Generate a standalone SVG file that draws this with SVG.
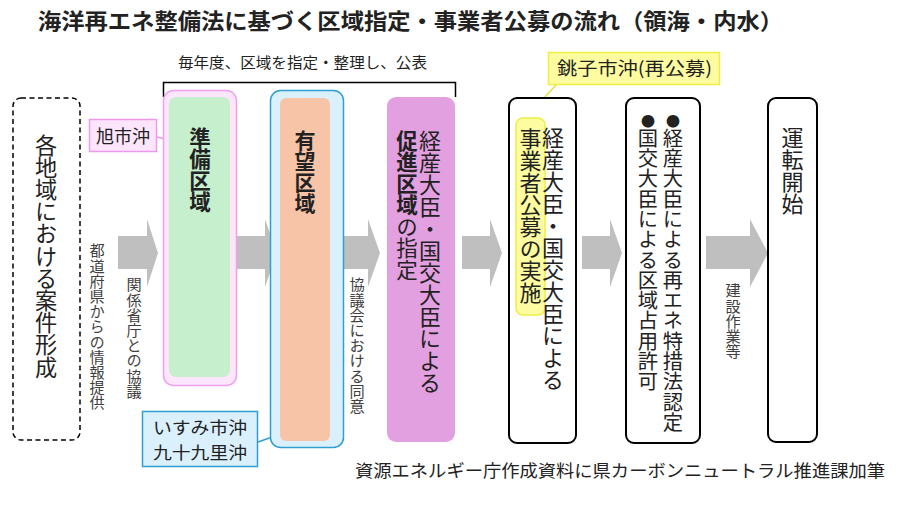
<svg xmlns="http://www.w3.org/2000/svg" width="900" height="507" viewBox="0 0 900 507">
<style>
text{font-family:"Noto Sans CJK JP","Noto Sans",sans-serif;fill:#222;}
.v{writing-mode:vertical-rl;}
.big{font-size:22px;}
.b{font-weight:bold;}
.small{font-size:15.2px;fill:#404040;}
.arrow{fill:#bfbfbf;}
.blk{fill:#fff;stroke:#000;stroke-width:2;}
</style>
<rect width="900" height="507" fill="#fff"/>
<text x="38" y="29" font-size="22" font-weight="bold" textLength="745" lengthAdjust="spacingAndGlyphs">海洋再エネ整備法に基づく区域指定・事業者公募の流れ（領海・内水）</text>
<text x="178" y="68" font-size="15" fill="#333" textLength="249" lengthAdjust="spacingAndGlyphs">毎年度、区域を指定・整理し、公表</text>
<path d="M163.5 97 V82.5 H455.5 V97" fill="none" stroke="#000" stroke-width="1.5"/>
<g id="connectors">
<path class="arrow" d="M118 236 H147 V219 L158 253 L147 287 V269 H118 Z"/>
<path class="arrow" d="M237 236 H265 V219 L277 253 L265 287 V269 H237 Z"/>
<path class="arrow" d="M340 236 H368 V219 L380 253 L368 287 V269 H340 Z"/>
<path class="arrow" d="M462 236 H490 V219 L502 253 L490 287 V269 H462 Z"/>
<path class="arrow" d="M582 236 H610 V219 L622 253 L610 287 V269 H582 Z"/>
<path class="arrow" d="M706 236 H750 V219 L768 253 L750 287 V269 H706 Z"/>
<line x1="157" y1="137" x2="177" y2="142" stroke="#ee99ee" stroke-width="1.5"/>
<line x1="258" y1="442" x2="278" y2="435" stroke="#2e9fd0" stroke-width="1.5"/>
<line x1="557" y1="84" x2="525" y2="118" stroke="#e8e040" stroke-width="1.5"/>
<text class="v small" x="97" y="243">都道府県からの情報提供</text>
<text class="v small" x="134" y="277">関係省庁との協議</text>
<text class="v small" x="357" y="277">協議会における同意</text>
<text class="v small" x="733" y="283">建設作業等</text>
</g>
<g id="n-local">
<rect x="13" y="98" width="67" height="342" rx="8" fill="none" stroke="#000" stroke-width="1.5" stroke-dasharray="5,3.5"/>
<text class="v" x="46" y="134" font-size="22.2">各地域における案件形成</text>
</g>
<g id="n-junbi">
<rect x="163.5" y="90.5" width="73" height="295" rx="10" fill="#fde6fc" stroke="#f0a0f0" stroke-width="1.5"/>
<rect x="169" y="97" width="61" height="280" rx="7" fill="#c6efce"/>
<text class="v b" x="200" y="127" font-size="21.5">準備区域</text>
</g>
<g id="n-asahi">
<rect x="89.5" y="119.5" width="67" height="32" fill="#fde6fc" stroke="#ee99ee" stroke-width="1.5"/>
<text x="123" y="143" font-size="18" text-anchor="middle" fill="#333">旭市沖</text>
</g>
<g id="n-yubo">
<rect x="270.5" y="90.5" width="73" height="357" rx="10" fill="#daf0fc" stroke="#2e9fd0" stroke-width="1.5"/>
<rect x="280" y="98" width="50" height="343" rx="6" fill="#f8c4a8"/>
<text class="v b" x="305" y="130" font-size="21">有望区域</text>
</g>
<g id="n-isumi">
<rect x="142.5" y="411.5" width="115" height="55" fill="#daf0fc" stroke="#2e9fd0" stroke-width="1.5"/>
<text x="153" y="434" font-size="17.2" fill="#333" textLength="94" lengthAdjust="spacingAndGlyphs">いすみ市沖</text>
<text x="153" y="459" font-size="17.2" fill="#333" textLength="94" lengthAdjust="spacingAndGlyphs">九十九里沖</text>
</g>
<g id="n-sokushin">
<rect x="387" y="97" width="68" height="345" rx="9" fill="#e3a0e0"/>
<text class="v big" x="430" y="130">経産大臣・国交大臣による</text>
<text class="v" x="407" y="130" font-size="21.5"><tspan class="b">促進区域</tspan>の指定</text>
</g>
<g id="n-koubo">
<rect class="blk" x="509" y="98" width="67" height="345" rx="8"/>
<rect x="516" y="118" width="29" height="197" rx="7" fill="#fdfca0" stroke="#eeee44" stroke-width="1.5"/>
<text class="v big" x="530.5" y="128" fill="#6b6b00">事業者公募の実施</text>
<text class="v big" x="553" y="127">経産大臣・国交大臣による</text>
</g>
<g id="n-choshi">
<rect x="548.5" y="52.5" width="171" height="32" fill="#fdfca0" stroke="#eeee44" stroke-width="1.5"/>
<text x="557" y="75" font-size="18" fill="#333" textLength="155" lengthAdjust="spacingAndGlyphs">銚子市沖(再公募)</text>
</g>
<g id="n-nintei">
<rect class="blk" x="626" y="98" width="74" height="345" rx="8"/>
<text class="v" x="673" y="114" font-size="20.3"><tspan font-size="14">●</tspan>経産大臣による再エネ特措法認定</text>
<text class="v" x="648" y="114" font-size="20.3"><tspan font-size="14">●</tspan>国交大臣による区域占用許可</text>
</g>
<g id="n-unten">
<rect class="blk" x="768" y="98" width="49" height="344" rx="8"/>
<text class="v big" x="792.5" y="127">運転開始</text>
</g>
<text x="355" y="477" font-size="17.6" fill="#222" textLength="530" lengthAdjust="spacingAndGlyphs" font-family="Liberation Serif, Noto Sans CJK JP, serif">資源エネルギー庁作成資料に県カーボンニュートラル推進課加筆</text>
</svg>
